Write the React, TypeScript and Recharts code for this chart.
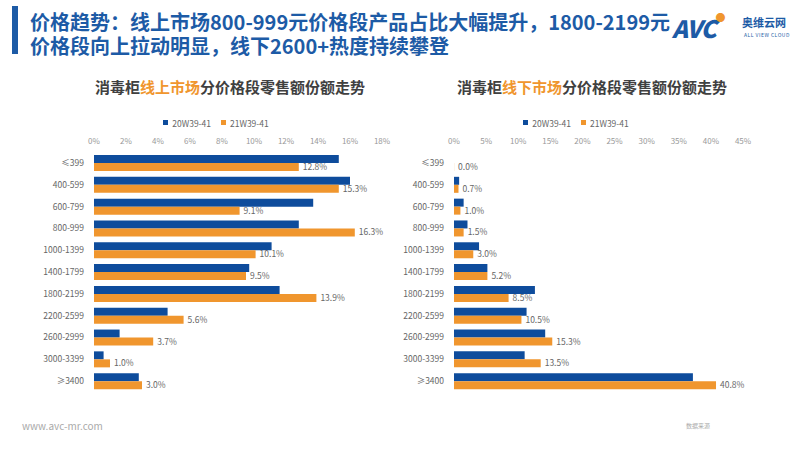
import { BarChart, Bar, XAxis, YAxis, Legend, LabelList } from "recharts";

const categories = [
  "≤399",
  "400-599",
  "600-799",
  "800-999",
  "1000-1399",
  "1400-1799",
  "1800-2199",
  "2200-2599",
  "2600-2999",
  "3000-3399",
  "≥3400",
];

const seriesNames = ["20W39-41", "21W39-41"];

// 线上市场
const onlinePrev = [15.3, 16.0, 13.7, 12.8, 11.1, 9.7, 11.6, 4.6, 1.6, 0.6, 2.8];
const onlineCurr = [12.8, 15.3, 9.1, 16.3, 10.1, 9.5, 13.9, 5.6, 3.7, 1.0, 3.0];
const onlineTicks = [0, 2, 4, 6, 8, 10, 12, 14, 16, 18];

// 线下市场
const offlinePrev = [0, 0.8, 1.5, 2.1, 3.9, 5.2, 12.6, 11.3, 14.2, 11.0, 37.2];
const offlineCurr = [0.0, 0.7, 1.0, 1.5, 3.0, 5.2, 8.5, 10.5, 15.3, 13.5, 40.8];
const offlineTicks = [0, 5, 10, 15, 20, 25, 30, 35, 40, 45];

const BLUE = "#0E4C9C";
const ORANGE = "#F0962E";
const TITLE_BLUE = "#1D5BA6";
const FONT = "'Noto Sans CJK SC', 'Noto Sans', sans-serif";

const buildRows = (prev: number[], curr: number[]) =>
  categories.map((c, i) => ({ range: c, prev: prev[i], curr: curr[i] }));

const legendFormatter = (value: string) => (
  <span style={{ color: "#666", fontSize: 8.5 }}>{value}</span>
);

interface PanelProps {
  prev: number[];
  curr: number[];
  ticks: number[];
  left: number;
  yWidth: number;
  marginLeft: number;
  marginRight: number;
  legendLeft: number;
}

const Panel = ({ prev, curr, ticks, left, yWidth, marginLeft, marginRight, legendLeft }: PanelProps) => {
  const data = buildRows(prev, curr);
  return (
    <div style={{ position: "absolute", left, top: 0 }}>
      <BarChart
        width={400}
        height={450}
        data={data}
        layout="vertical"
        barSize={8}
        barGap={0}
        margin={{ top: 119, right: marginRight, bottom: 58, left: marginLeft }}
        style={{ fontFamily: FONT }}
      >
        <XAxis
          type="number"
          orientation="top"
          domain={[0, ticks[ticks.length - 1]]}
          ticks={ticks}
          tickFormatter={(v) => `${v}%`}
          axisLine={false}
          tickLine={false}
          height={20}
          tick={{ fontSize: 8, fill: "#999" }}
          tickMargin={2}
        />
        <YAxis
          type="category"
          dataKey="range"
          width={yWidth}
          axisLine={false}
          tickLine={false}
          tickMargin={4}
          interval={0}
          tick={{ fontSize: 8.5, fill: "#666" }}
        />
        <Legend
          verticalAlign="top"
          iconType="square"
          iconSize={5}
          formatter={legendFormatter}
          wrapperStyle={{ top: 115, left: legendLeft, width: 160, lineHeight: "10px" }}
        />
        <Bar dataKey="prev" name={seriesNames[0]} fill={BLUE} isAnimationActive={false} />
        <Bar dataKey="curr" name={seriesNames[1]} fill={ORANGE} minPointSize={0.1} isAnimationActive={false}>
          <LabelList
            dataKey="curr"
            position="right"
            offset={4}
            formatter={(v: number) => `${v.toFixed(1)}%`}
            style={{ fontSize: 8.5, fill: "#666" }}
          />
        </Bar>
      </BarChart>
    </div>
  );
};

export default function App() {
  return (
    <div
      style={{
        position: "absolute",
        left: 0,
        top: 0,
        width: 800,
        height: 450,
        background: "#fff",
        fontFamily: FONT,
        overflow: "hidden",
      }}
    >
      <div style={{ position: "absolute", left: 12, top: 6, width: 6, height: 48, background: TITLE_BLUE }} />
      <div
        style={{
          position: "absolute",
          left: 30,
          top: 10,
          fontSize: 20,
          lineHeight: "24px",
          fontWeight: 700,
          color: TITLE_BLUE,
          whiteSpace: "nowrap",
        }}
      >
        <div>价格趋势：线上市场800-999元价格段产品占比大幅提升，1800-2199元</div>
        <div>价格段向上拉动明显，线下2600+热度持续攀登</div>
      </div>
      <div style={{ position: "absolute", left: 672, top: 10, whiteSpace: "nowrap" }}>
        <span style={{ fontSize: 24, fontWeight: 900, fontStyle: "italic", color: TITLE_BLUE, letterSpacing: -1 }}>
          AVC
        </span>
        <span style={{ color: ORANGE, fontSize: 10, verticalAlign: "top" }}>●</span>
      </div>
      <div style={{ position: "absolute", left: 742, top: 14, fontSize: 11, fontWeight: 700, color: TITLE_BLUE }}>
        奥维云网
      </div>
      <div style={{ position: "absolute", left: 744, top: 31, fontSize: 5, color: TITLE_BLUE, letterSpacing: 0.5 }}>
        ALL VIEW CLOUD
      </div>

      <div
        style={{
          position: "absolute",
          left: 0,
          width: 460,
          top: 76,
          textAlign: "center",
          fontSize: 15,
          fontWeight: 700,
          color: "#404040",
        }}
      >
        消毒柜<span style={{ color: ORANGE }}>线上市场</span>分价格段零售额份额走势
      </div>
      <div
        style={{
          position: "absolute",
          left: 400,
          width: 384,
          top: 76,
          textAlign: "center",
          fontSize: 15,
          fontWeight: 700,
          color: "#404040",
        }}
      >
        消毒柜<span style={{ color: ORANGE }}>线下市场</span>分价格段零售额份额走势
      </div>

      <Panel
        prev={onlinePrev}
        curr={onlineCurr}
        ticks={onlineTicks}
        left={0}
        yWidth={80}
        marginLeft={14}
        marginRight={18}
        legendLeft={141}
      />
      <Panel
        prev={offlinePrev}
        curr={offlineCurr}
        ticks={offlineTicks}
        left={400}
        yWidth={50}
        marginLeft={4}
        marginRight={57}
        legendLeft={101}
      />

      <div style={{ position: "absolute", left: 22, top: 418, fontSize: 10, color: "#aaa" }}>www.avc-mr.com</div>
      <div style={{ position: "absolute", left: 686, top: 421, fontSize: 6, color: "#aaa" }}>数据来源</div>
    </div>
  );
}
